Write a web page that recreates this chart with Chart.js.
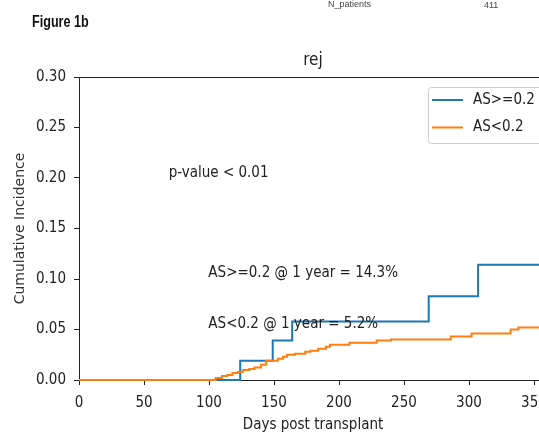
<!DOCTYPE html>
<html>
<head>
<meta charset="utf-8">
<script src="https://cdn.jsdelivr.net/npm/chart.js@4.4.1/dist/chart.umd.min.js"></script>
<style>
  html, body { margin: 0; padding: 0; background: #fff; overflow: hidden; }
  #wrap { position: relative; width: 539px; height: 434px; overflow: hidden; }
  canvas { display: block; }
</style>
</head>
<body>
<div id="wrap">
  <canvas id="ci" width="560" height="434"></canvas>
</div>
<script>
// cumulative incidence of rejection, step curves (day, value)
const blueDays = [0, 124, 149, 164, 269, 307, 357]
const blueCI = [0, 0.019, 0.039, 0.058, 0.083, 0.114, 0.143]

const orangeDays = [0, 105, 110, 114, 118, 122, 126, 131, 135, 140, 144, 153, 157, 160, 166, 174, 178, 184, 190, 193, 208, 229, 240, 286, 302, 332, 338, 360]
const orangeCI = [0, 0.002, 0.004, 0.005, 0.007, 0.008, 0.010, 0.011, 0.0125, 0.015, 0.019, 0.021, 0.023, 0.025, 0.026, 0.028, 0.029, 0.031, 0.033, 0.035, 0.037, 0.039, 0.040, 0.043, 0.046, 0.050, 0.052, 0.052]

const seriesLabels = ['AS>=0.2', 'AS<0.2']
const xTicks = [0, 50, 100, 150, 200, 250, 300, 350]
const yTicks = [0, 0.05, 0.10, 0.15, 0.20, 0.25, 0.30]

const pValueText = 'p-value < 0.01'
const pct = v => (v * 100).toFixed(1) + '%'
const oneYearLabels = [
  seriesLabels[0] + ' @ 1 year = ' + pct(blueCI[blueCI.length - 1]),
  seriesLabels[1] + ' @ 1 year = ' + pct(orangeCI[orangeCI.length - 1])
]

const FONT = "'DejaVu Sans Condensed', 'DejaVu Sans', sans-serif"
const colors = ['#1f77b4', '#ff7f0e']

const toPoints = (days, vals) => days.map((d, i) => ({ x: d, y: vals[i] }))

// header text, top spine, annotations and legend box
const extras = {
  id: 'extras',
  afterDraw(chart) {
    const { ctx, chartArea: a, scales } = chart
    const x = scales.x, y = scales.y
    ctx.save()

    // top spine
    ctx.strokeStyle = '#222'
    ctx.lineWidth = 1
    ctx.beginPath()
    ctx.moveTo(a.left, a.top + 0.5)
    ctx.lineTo(a.right, a.top + 0.5)
    ctx.stroke()

    ctx.textBaseline = 'middle'
    ctx.save()
    ctx.translate(32, 23)
    ctx.scale(0.84, 1.05)
    ctx.fillStyle = '#111'
    ctx.font = "bold 15px 'Liberation Sans', sans-serif"
    ctx.fillText('Figure 1b', 0, 0)
    ctx.restore()

    ctx.fillStyle = '#444'
    ctx.font = "9px 'Liberation Sans', sans-serif"
    ctx.fillText('N_patients', 328, 5)
    ctx.fillText('411', 484, 6)

    ctx.fillStyle = '#222'
    ctx.font = '17px ' + FONT
    ctx.textAlign = 'center'
    ctx.fillText('rej', (a.left + a.right) / 2, 61)

    ctx.textAlign = 'left'
    ctx.font = '15px ' + FONT
    ctx.fillText(pValueText, x.getPixelForValue(69), y.getPixelForValue(0.205))
    ctx.fillText(oneYearLabels[0], x.getPixelForValue(99.5), y.getPixelForValue(0.106))
    ctx.fillText(oneYearLabels[1], x.getPixelForValue(99.5), y.getPixelForValue(0.0555))

    // legend
    const lx = 428, ly = 87, lw = 125, lh = 56
    ctx.fillStyle = 'rgba(255,255,255,0.85)'
    ctx.strokeStyle = '#ccc'
    ctx.beginPath()
    ctx.roundRect(lx + 0.5, ly + 0.5, lw, lh, 3)
    ctx.fill()
    ctx.stroke()
    chart.data.datasets.forEach((ds, i) => {
      const cy = ly + 13 + i * 27.5
      ctx.strokeStyle = ds.borderColor
      ctx.lineWidth = 2
      ctx.beginPath()
      ctx.moveTo(lx + 4, cy)
      ctx.lineTo(lx + 35, cy)
      ctx.stroke()
      ctx.fillStyle = '#222'
      ctx.fillText(ds.label, lx + 45, cy)
    })
    ctx.restore()
  }
}

new Chart(document.getElementById('ci'), {
  type: 'line',
  data: {
    datasets: [
      { label: seriesLabels[0], data: toPoints(blueDays, blueCI), borderColor: colors[0], order: 1 },
      { label: seriesLabels[1], data: toPoints(orangeDays, orangeCI), borderColor: colors[1], order: 0 }
    ].map(d => ({ ...d, stepped: 'before', borderWidth: 2, pointRadius: 0, fill: false, clip: 3 }))
  },
  options: {
    responsive: false,
    animation: false,
    layout: { padding: { left: 0, right: 13, top: 77, bottom: 0 } },
    plugins: { legend: { display: false }, tooltip: { enabled: false } },
    scales: {
      x: {
        type: 'linear',
        min: 0,
        max: 360,
        afterFit: s => { s.height = 54 },
        afterBuildTicks: s => { s.ticks = xTicks.map(v => ({ value: v })) },
        grid: { drawOnChartArea: false, tickLength: 5, color: '#222' },
        border: { color: '#222' },
        ticks: { color: '#222', font: { family: FONT, size: 15 }, padding: 9, maxRotation: 0 },
        title: { display: true, text: 'Days post transplant', color: '#222', font: { family: FONT, size: 15 }, padding: { top: 0, bottom: 0 } }
      },
      y: {
        type: 'linear',
        min: 0,
        max: 0.3,
        afterFit: s => { s.width = 79 },
        afterBuildTicks: s => { s.ticks = yTicks.map(v => ({ value: v })) },
        grid: { drawOnChartArea: false, tickLength: 5, color: '#222' },
        border: { color: '#222' },
        ticks: { color: '#222', font: { family: FONT, size: 15 }, padding: 8, callback: v => v.toFixed(2) },
        title: { display: true, text: 'Cumulative Incidence', color: '#333', font: { family: "'DejaVu Sans', sans-serif", size: 14 }, padding: { top: 12, bottom: 0 } }
      }
    }
  },
  plugins: [extras]
})
</script>
</body>
</html>
